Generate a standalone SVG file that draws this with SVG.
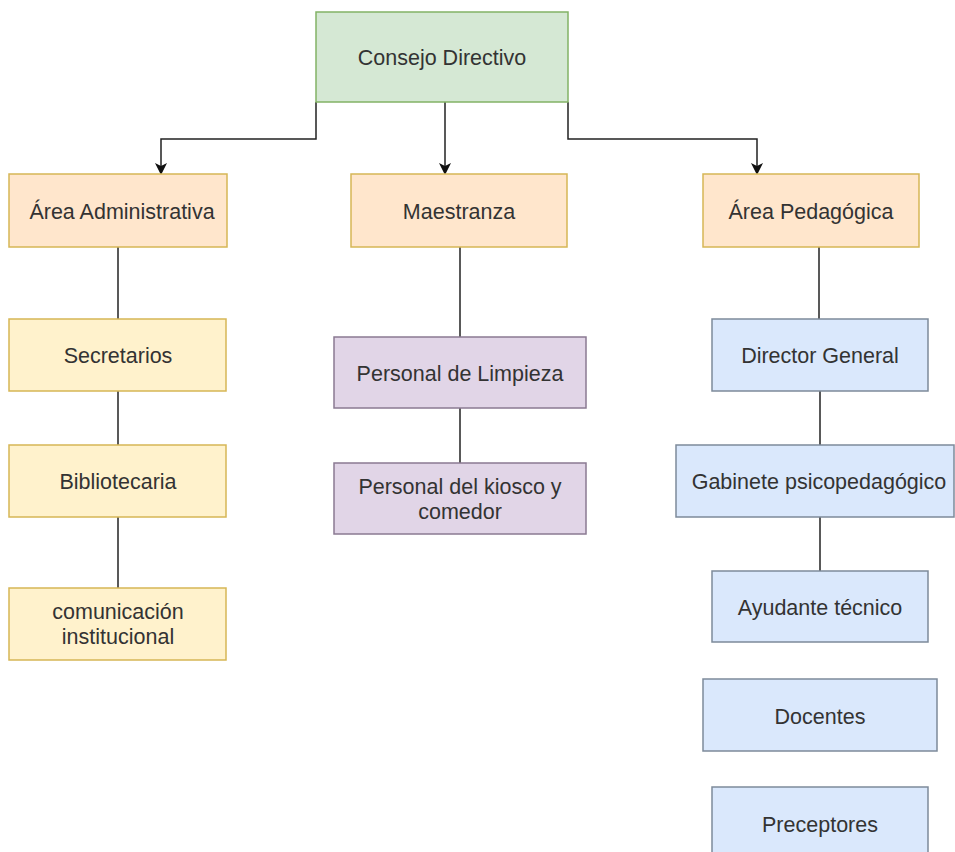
<svg xmlns="http://www.w3.org/2000/svg" width="955" height="852" viewBox="0 0 955 852">
<style>
text{font-family:"Liberation Sans",Arial,sans-serif;font-size:21.5px;fill:#333;text-anchor:middle;dominant-baseline:central}
.g{fill:#d5e8d4;stroke:#82b366}
.o{fill:#ffe6cc;stroke:#d6b656}
.y{fill:#fff2cc;stroke:#d6b656}
.p{fill:#e1d5e7;stroke:#8a7a92}
.b{fill:#dae8fc;stroke:#7d8a9a}
rect{stroke-width:1.5}
.c{fill:none;stroke:#222;stroke-width:1.5}
</style>
<defs>
<marker id="arr" markerWidth="12" markerHeight="12" refX="10" refY="6" orient="auto" markerUnits="userSpaceOnUse">
<path d="M0,0 L12,6 L0,12 L3,6 Z" fill="#111"/>
</marker>
</defs>
<rect width="955" height="852" fill="#fff" stroke="none"/>
<g id="connectors">
<path class="c" d="M316,102 V139 H161 V173" marker-end="url(#arr)"/>
<path class="c" d="M445,102 V173" marker-end="url(#arr)"/>
<path class="c" d="M568,102 V139 H757 V173" marker-end="url(#arr)"/>
<path class="c" d="M118,247 V319"/>
<path class="c" d="M118,391 V445"/>
<path class="c" d="M118,517 V588"/>
<path class="c" d="M460,247 V337"/>
<path class="c" d="M460,408 V463"/>
<path class="c" d="M819,247 V319"/>
<path class="c" d="M820,391 V445"/>
<path class="c" d="M820,517 V571"/>
</g>
<g id="consejo"><rect class="g" x="316" y="12" width="252" height="90"/><text x="442" y="58">Consejo Directivo</text></g>
<g id="area-admin"><rect class="o" x="9" y="174" width="218" height="73"/><text x="122" y="212">Área Administrativa</text></g>
<g id="maestranza"><rect class="o" x="351" y="174" width="216" height="73"/><text x="459" y="212">Maestranza</text></g>
<g id="area-ped"><rect class="o" x="703" y="174" width="216" height="73"/><text x="811" y="212">Área Pedagógica</text></g>
<g id="secretarios"><rect class="y" x="9" y="319" width="217" height="72"/><text x="118" y="356">Secretarios</text></g>
<g id="bibliotecaria"><rect class="y" x="9" y="445" width="217" height="72"/><text x="118" y="482">Bibliotecaria</text></g>
<g id="comunicacion"><rect class="y" x="9" y="588" width="217" height="72"/><text x="118" y="612">comunicación</text><text x="118" y="637">institucional</text></g>
<g id="limpieza"><rect class="p" x="334" y="337" width="252" height="71"/><text x="460" y="374">Personal de Limpieza</text></g>
<g id="kiosco"><rect class="p" x="334" y="463" width="252" height="71"/><text x="460" y="487">Personal del kiosco y</text><text x="460" y="512">comedor</text></g>
<g id="director"><rect class="b" x="712" y="319" width="216" height="72"/><text x="820" y="356">Director General</text></g>
<g id="gabinete"><rect class="b" x="676" y="445" width="278" height="72"/><text x="819" y="482">Gabinete psicopedagógico</text></g>
<g id="ayudante"><rect class="b" x="712" y="571" width="216" height="71"/><text x="820" y="608">Ayudante técnico</text></g>
<g id="docentes"><rect class="b" x="703" y="679" width="234" height="72"/><text x="820" y="717">Docentes</text></g>
<g id="preceptores"><rect class="b" x="712" y="787" width="216" height="72"/><text x="820" y="825">Preceptores</text></g>
</svg>
